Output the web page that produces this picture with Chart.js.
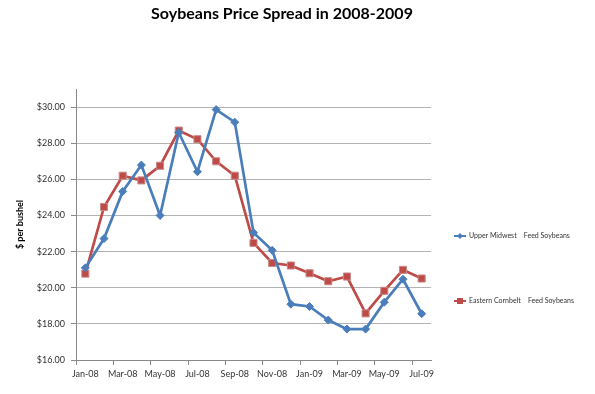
<!DOCTYPE html>
<html>
<head>
<meta charset="utf-8">
<script src="https://cdn.jsdelivr.net/npm/chart.js@4/dist/chart.umd.min.js"></script>
<style>
  html, body { margin:0; padding:0; background:#fff; }
  #wrap { width:595px; height:394px; }
</style>
</head>
<body>
<div id="wrap"><canvas id="chart" width="595" height="394"></canvas></div>
<script>
  /* ===== data ===== */
  const MONTHS = ["Jan-08","Feb-08","Mar-08","Apr-08","May-08","Jun-08","Jul-08","Aug-08","Sep-08","Oct-08","Nov-08","Dec-08",
                  "Jan-09","Feb-09","Mar-09","Apr-09","May-09","Jun-09","Jul-09"];
  const UPPER_MIDWEST = [21.1,22.72,25.33,26.79,24.0,28.59,26.42,29.86,29.16,23.05,22.07,19.09,18.96,18.21,17.71,17.71,19.2,20.47,18.56];
  const EASTERN_CORNBELT = [20.78,24.47,26.2,25.94,26.75,28.7,28.22,27.0,26.2,22.48,21.37,21.23,20.8,20.36,20.62,18.58,19.83,20.99,20.51];
  const SERIES_NAMES = ["Upper Midwest    Feed Soybeans", "Eastern Cornbelt    Feed Soybeans"];
  const TITLE = "Soybeans Price Spread in 2008-2009";
  const Y_MIN = 16, Y_MAX = 31, Y_STEP = 2;

  const BLUE = "#4a7ebb", RED = "#be4b48";
  const FONT = "Lato, 'Open Sans', sans-serif";
  const GRID = "#b3b3b3";

  /* ===== title over the whole canvas + legend drawn by hand, Excel style ===== */
  const sideLegend = {
    id: "sideLegend",
    afterDraw(chart) {
      const ctx = chart.ctx;
      ctx.save();
      ctx.fillStyle = "#000";
      ctx.font = "bold 16px " + FONT;
      ctx.textAlign = "center";
      ctx.textBaseline = "middle";
      ctx.fillText(TITLE, 282, 14);

      ctx.textAlign = "left";
      const ys = [236, 301];
      chart.data.datasets.forEach((ds, i) => {
        const x0 = 454, y = ys[i];
        ctx.strokeStyle = ds.borderColor;
        ctx.lineWidth = 2;
        ctx.beginPath(); ctx.moveTo(x0, y); ctx.lineTo(x0 + 12, y); ctx.stroke();
        ctx.fillStyle = ds.backgroundColor;
        ctx.beginPath();
        if (ds.pointStyle === "rectRot") {
          ctx.moveTo(x0 + 6, y - 3); ctx.lineTo(x0 + 9, y); ctx.lineTo(x0 + 6, y + 3); ctx.lineTo(x0 + 3, y);
        } else {
          ctx.rect(x0 + 3, y - 3, 6, 6);
        }
        ctx.fill();
        ctx.fillStyle = "#333";
        ctx.font = "7px " + FONT;
        ctx.fillText(ds.label, x0 + 15, y);
      });
      ctx.restore();
    }
  };

  new Chart(document.getElementById("chart"), {
    type: "line",
    data: {
      labels: MONTHS,
      datasets: [
        { label: SERIES_NAMES[0], data: UPPER_MIDWEST, borderColor: BLUE, backgroundColor: BLUE,
          borderWidth: 2.7, pointStyle: "rectRot", pointRadius: 4, pointBorderWidth: 1, tension: 0 },
        { label: SERIES_NAMES[1], data: EASTERN_CORNBELT, borderColor: RED, backgroundColor: RED,
          borderWidth: 2.7, pointStyle: "rect", pointRadius: 5, pointBorderWidth: 1, pointBorderColor: "#c98a88", tension: 0 }
      ]
    },
    options: {
      responsive: false,
      animation: false,
      layout: { padding: { left: 0, right: 164, top: 89, bottom: 0 } },
      plugins: {
        legend: { display: false },
        tooltip: { enabled: false },
        title: { display: false }
      },
      scales: {
        x: {
          offset: true,
          afterFit(s) { s.height = 34; },
          border: { color: "#888", width: 1 },
          grid: {
            offset: true, drawOnChartArea: false, drawTicks: true, tickLength: 5,
            tickColor: c => (c.index % 2 === 0 ? "#888" : "rgba(0,0,0,0)")
          },
          ticks: {
            autoSkip: false, maxRotation: 0, padding: 4, color: "#333",
            font: { family: FONT, size: 9 },
            callback: (v, i) => (i % 2 === 0 ? MONTHS[i] : "")
          }
        },
        y: {
          min: Y_MIN, max: Y_MAX,
          afterFit(s) { s.width = 76; },
          border: { color: "#888", width: 1 },
          grid: { color: GRID, lineWidth: 1, drawTicks: true, tickLength: 5, tickColor: "#888" },
          ticks: {
            stepSize: Y_STEP, includeBounds: false, padding: 6, color: "#333",
            font: { family: FONT, size: 9 },
            callback: v => "$" + v.toFixed(2)
          },
          title: {
            display: true, text: "$ per bushel", color: "#000",
            font: { family: FONT, size: 9, weight: "bold" },
            padding: { top: 15, bottom: 0 }
          }
        }
      }
    },
    plugins: [sideLegend]
  });
</script>
</body>
</html>
